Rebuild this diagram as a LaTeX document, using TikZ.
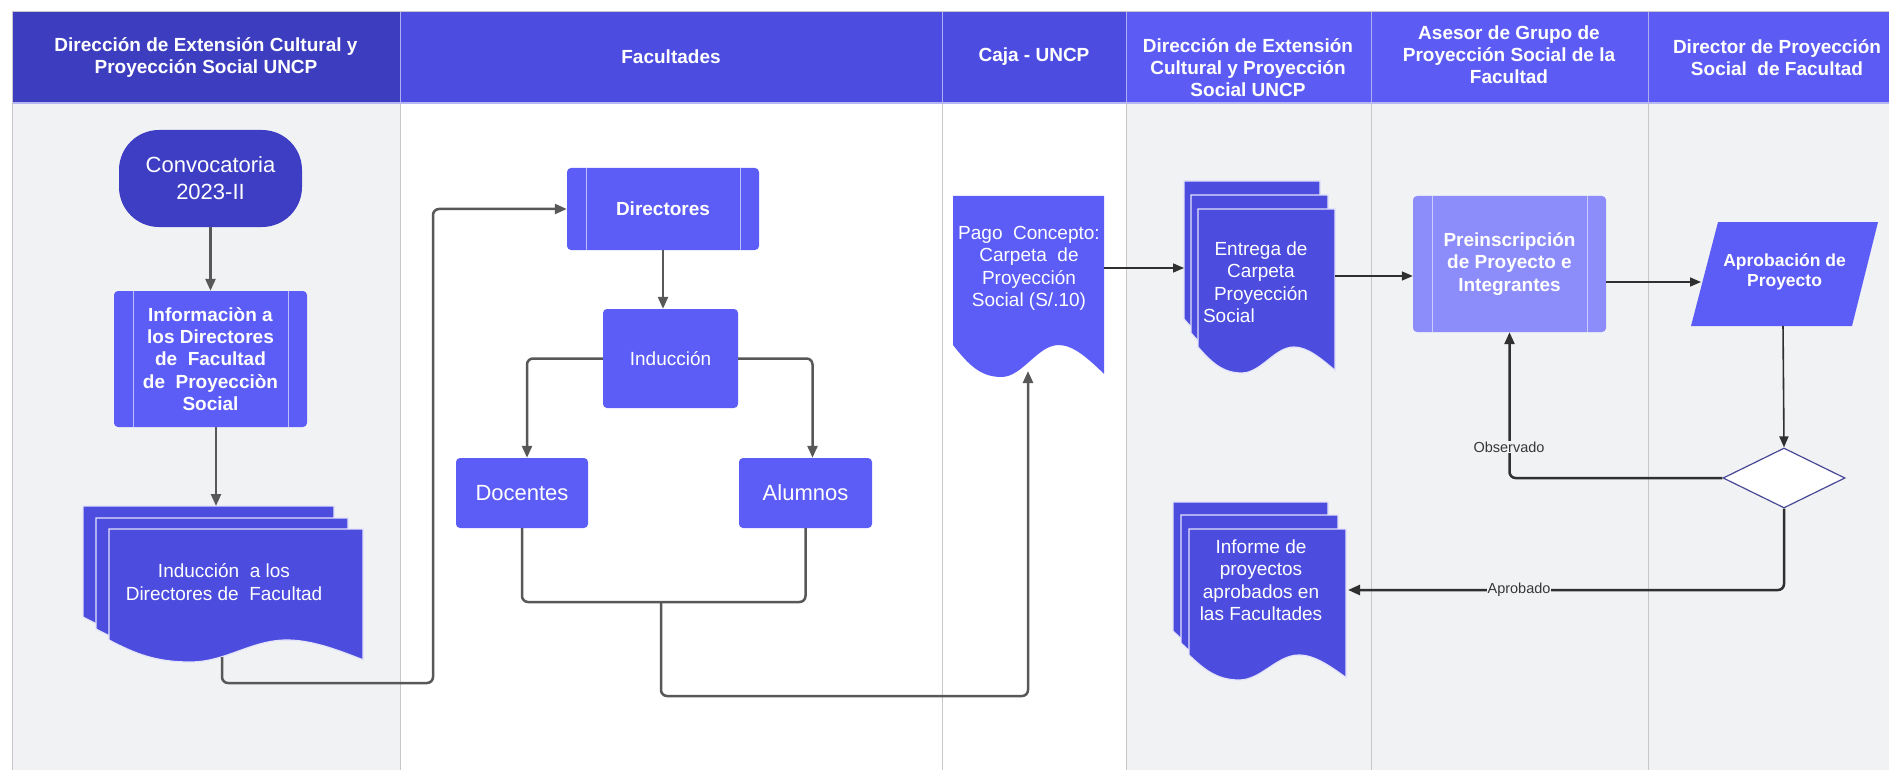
\documentclass[tikz,border=0pt]{standalone}
\usepackage{fontspec}
\setmainfont{Liberation Sans}
\usetikzlibrary{arrows.meta,shapes.geometric,calc}
\definecolor{hdrA}{RGB}{61,61,191}
\definecolor{hdrB}{RGB}{76,76,224}
\definecolor{hdrC}{RGB}{92,92,245}
\definecolor{lanegray}{RGB}{241,242,244}
\definecolor{divgray}{RGB}{200,200,204}
\definecolor{termblue}{RGB}{62,62,196}
\definecolor{procblue}{RGB}{92,92,246}
\definecolor{docblue}{RGB}{76,76,222}
\definecolor{prelight}{RGB}{140,140,250}
\definecolor{linegray}{RGB}{88,88,88}
\definecolor{linedark}{RGB}{48,48,48}
\definecolor{decborder}{RGB}{72,72,150}
\definecolor{lbltext}{RGB}{55,55,55}
\newcommand\docshape[6]{%
  \pgfmathsetmacro\dA{#1}\pgfmathsetmacro\dW{#3-#1}%
  \fill[#6]
   (#1,#4) -- (#1,#2) -- (#3,#2) -- (#3,#4+0.9*#5)
   .. controls (\dA+0.9*\dW,#4+0.45*#5) and (\dA+0.8*\dW,#4) .. (\dA+0.7*\dW,#4)
   .. controls (\dA+0.56*\dW,#4) and (\dA+0.46*\dW,#4+#5) .. (\dA+0.32*\dW,#4+#5)
   .. controls (\dA+0.18*\dW,#4+#5) and (\dA+0.1*\dW,#4+0.6*#5) .. (#1,#4) -- cycle;}
\tikzset{
  hdrtext/.style={text=white, align=center, font=\bfseries\fontsize{19}{22}\selectfont, inner sep=0},
  bars/.style={path picture={
     \draw[#1, line width=1pt] ([xshift=19pt]path picture bounding box.north west) -- ([xshift=19pt]path picture bounding box.south west);
     \draw[#1, line width=1pt] ([xshift=-19pt]path picture bounding box.north east) -- ([xshift=-19pt]path picture bounding box.south east);}},
  procbox/.style={rectangle, rounded corners=4pt, fill=procblue, text=white, align=center, inner sep=0, font=\fontsize{19}{22}\selectfont},
  bigbox/.style={procbox, font=\fontsize{22}{27}\selectfont},
  doctext/.style={text=white, align=center, inner sep=0, font=\fontsize{19}{22.5}\selectfont},
  conn/.style={draw=linegray, line width=2.5pt, rounded corners=6pt, -{Triangle[length=12pt,width=10pt]}},
  connline/.style={draw=linegray, line width=2.5pt, rounded corners=6pt},
  conntwo/.style={draw=linedark, line width=1.6pt, -{Triangle[length=11pt,width=9pt]}},
  connthree/.style={draw=linedark, line width=2.5pt, rounded corners=6pt, -{Triangle[length=12pt,width=10pt]}},
  lbl/.style={fill=lanegray, text=lbltext, inner sep=1pt, font=\fontsize{14.5}{16}\selectfont},
  docedge/.style={draw=white!85!docblue, line width=1.2pt}
}
\begin{document}
\begin{tikzpicture}[x=1pt,y=-1pt]
\useasboundingbox (0,0) rectangle (1889,770);
\clip (0,0) rectangle (1889,770);
\fill[white] (0,0) rectangle (1889,770);
% lane bodies
\fill[lanegray] (12,103) rectangle (400,770);
\fill[white] (400,103) rectangle (1126,770);
\fill[lanegray] (1126,103) rectangle (1900,770);
% headers
\fill[hdrA] (12,12) rectangle (400,103);
\fill[hdrB] (400,12) rectangle (1126,103);
\fill[hdrC] (1126,12) rectangle (1900,103);
\foreach \x in {400,942,1126,1371,1648} {
  \draw[divgray, line width=1pt] (\x,103) -- (\x,770);
  \draw[white!55!hdrB, line width=1pt] (\x,12) -- (\x,103);
}
\draw[white!60!hdrB, line width=1.5pt] (12,103) -- (1900,103);
\draw[divgray, line width=1pt] (12,770) -- (12,12) -- (1900,12);
% header texts
\node[hdrtext] (h1) at (206,58) {Dirección de Extensión Cultural y\\Proyección Social UNCP};
\node[hdrtext] (h2) at (671,57) {Facultades};
\node[hdrtext] (h3) at (1034,57) {Caja - UNCP};
\node[hdrtext] (h4) at (1248,68) {Dirección de Extensión\\Cultural y Proyección\\Social UNCP};
\node[hdrtext] (h5) at (1509,55) {Asesor de Grupo de\\Proyección Social de la\\Facultad};
\node[hdrtext] (h6) at (1777,58) {Director de Proyección\\Social~ de Facultad};

% lane 1
\node[bigbox, fill=termblue, rounded corners=40pt, minimum width=183pt, minimum height=97pt] (conv) at (210.5,178.5) {Convocatoria\\2023-II};
\node[procbox, minimum width=193pt, minimum height=136pt, bars=white!60!procblue, font=\bfseries\fontsize{19}{22.3}\selectfont] (info) at (210.5,359) {Informaciòn a\\los Directores\\de~ Facultad\\de~ Proyecciòn\\Social};
\docshape{83}{506}{334}{617}{22}{docblue, docedge}
\docshape{96}{518}{348}{629}{22}{docblue, docedge}
\docshape{109}{529}{363}{640}{22}{docblue, docedge}
\node[doctext] (indoc) at (224,582) {Inducción~ a los\\Directores de~ Facultad};
\coordinate (indTop) at (216,506);
\coordinate (indBot) at (222,657);
\coordinate (turnA) at (433,683);

% lane 2
\node[procbox, minimum width=192pt, minimum height=82pt, bars=white!60!procblue, font=\bfseries\fontsize{19}{22}\selectfont] (dir) at (663,209) {Directores};
\node[procbox, minimum width=135pt, minimum height=99pt] (ind) at (670.5,358.5) {Inducción};
\node[bigbox, minimum width=132pt, minimum height=70pt] (doc) at (522,493) {Docentes};
\node[bigbox, minimum width=133pt, minimum height=70pt] (alu) at (805.5,493) {Alumnos};
\coordinate (join) at (661,602);
\coordinate (turnB) at (661,696);

% lane 3
\docshape{953}{196}{1104}{345}{32}{procblue}
\node[doctext] (pago) at (1029,268.5) {Pago~ Concepto:\\Carpeta~ de\\Proyección\\Social (S/.10)};
\coordinate (pagoBot) at (1028,371);
\coordinate (pagoE) at (1104,268);

% lane 4
\docshape{1184}{181}{1320}{319}{26}{docblue, docedge}
\docshape{1191}{195}{1328}{333}{26}{docblue, docedge}
\docshape{1198}{209}{1335}{347}{26}{docblue, docedge}
\node[doctext] (ent) at (1261,282) {Entrega de\\Carpeta\\Proyección\\\makebox[116pt][l]{Social}};
\coordinate (entW) at (1184,268);
\coordinate (entE) at (1335,276);
\docshape{1173}{502}{1328}{631}{25}{docblue, docedge}
\docshape{1181}{515}{1338}{643}{25}{docblue, docedge}
\docshape{1189}{529}{1346}{655}{25}{docblue, docedge}
\node[doctext] (inf) at (1261,580) {Informe de\\proyectos\\aprobados en\\las Facultades};
\coordinate (infE) at (1348,590);

% lane 5
\node[procbox, fill=prelight, minimum width=193pt, minimum height=136pt, bars=white!55!prelight, font=\bfseries\fontsize{19}{22.5}\selectfont] (pre) at (1509.5,264) {Preinscripción\\de Proyecto e\\Integrantes};

% lane 6
\fill[procblue] (1718,222) -- (1878,222) -- (1852,326) -- (1691,326) -- cycle;
\node[doctext, font=\bfseries\fontsize{17.5}{20.5}\selectfont] (aprob) at (1784.5,272) {Aprobación de\\Proyecto};
\coordinate (aprobW) at (1701,282);
\coordinate (aprobS) at (1783,326);
\node[diamond, draw=decborder, fill=white, line width=1.2pt, minimum width=122pt, minimum height=60pt, inner sep=0] (dec) at (1784,478) {};

% connectors
\draw[conn] (conv.south) -- (info.north);
\draw[conn] (info.south -| indTop) -- (indTop);
\draw[conn] (indBot) |- (turnA) |- (dir.west);
\draw[conn] (dir.south) -- (dir.south |- ind.north);
\draw[conn] (ind.west) -| ([xshift=5pt]doc.north);
\draw[conn] (ind.east) -| ([xshift=7pt]alu.north);
\draw[connline] (doc.south) -- (doc.south |- join) -- (alu.south |- join) -- (alu.south);
\draw[conn] (join) -- (turnB) -| (pagoBot);
\draw[conntwo] (pagoE) -- (entW);
\draw[conntwo] (entE) -- (entE -| pre.west);
\draw[conntwo] ([yshift=-18pt]pre.east) -- (aprobW);
\draw[conntwo] (aprobS) -- (dec.north);
\draw[connthree] (dec.west) -| (pre.south);
\draw[connthree] (dec.south) |- (infE);
\node[lbl] (obs) at (1509,447) {Observado};
\node[lbl] (apr) at (1519,590) {Aprobado};
\end{tikzpicture}
\end{document}
